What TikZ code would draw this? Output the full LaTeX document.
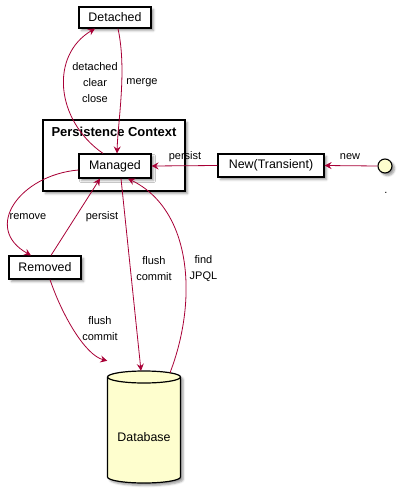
\documentclass[tikz,border=0pt]{standalone}
\usepackage{fontspec}
\setmainfont{Liberation Sans}
\usetikzlibrary{shapes.geometric,arrows.meta,shadows.blur,calc}
\definecolor{arrred}{HTML}{A80036}
\definecolor{ylw}{HTML}{FEFECE}
\begin{document}
\begin{tikzpicture}[x=1pt,y=-1pt,
  shad/.style={blur shadow={shadow xshift=2.5pt,shadow yshift=-2.5pt,shadow blur steps=4,shadow opacity=40}},
  box/.style={draw=black,line width=1.2pt,fill=white,minimum width=72pt,inner sep=0pt,font=\fontsize{12.4}{14}\selectfont,shad},
  frame/.style={draw=black,line width=1.2pt,fill=white,inner sep=0pt,shad},
  arr/.style={draw=arrred,line width=0.8pt,-{Stealth[length=7pt,width=7pt,inset=2.5pt]}},
  lbl/.style={font=\fontsize{11}{16}\selectfont,align=center,inner sep=0pt,text=black}]
\useasboundingbox (0,0) rectangle (401,493);
% frame
\node[frame,minimum width=142pt,minimum height=71pt] (pc) at (114,155.5) {};
\node[font=\bfseries\fontsize{13}{15}\selectfont,inner sep=0pt] (pct) at (114,132) {Persistence Context};
% nodes
\node[box,minimum height=21pt] (D) at (115,17.5) {Detached};
\node[box,minimum height=24pt] (M) at (115,166) {Managed};
\node[box,minimum width=106pt,minimum height=23pt] (N) at (271,165.5) {New(Transient)};
\node[box,minimum height=23pt] (R) at (45,267.5) {Removed};
\node[circle,draw=black,line width=1.1pt,fill=ylw,minimum size=14pt,inner sep=0pt,shad] (C) at (385,166) {};
\node[lbl] (dot) at (386,193) {.};
% database
\path[draw=black,line width=1.2pt,fill=ylw,shad]
  (107.5,377) -- (107.5,477) arc[start angle=180,end angle=0,x radius=36.5,y radius=6]
  -- (180.5,377) arc[start angle=0,end angle=-180,x radius=36.5,y radius=6] -- cycle;
\draw[black,line width=1.2pt] (107.5,377) arc[start angle=180,end angle=0,x radius=36.5,y radius=6];
\node[inner sep=0pt,minimum width=73pt,minimum height=112pt,font=\fontsize{12.4}{14}\selectfont] (DB) at (144,427) {};
\node[font=\fontsize{12.4}{14}\selectfont,inner sep=0pt] (dbt) at (144,437) {Database};
% connectors
\draw[arr] ([xshift=-12pt]M.north) .. controls (55,120) and (50,55) .. ([xshift=-20pt]D.south);
\draw[arr] ([xshift=3pt]D.south) .. controls (127,70) and (118,120) .. ([xshift=2pt]M.north);
\draw[arr] (N.west) -- (M.east);
\draw[arr] (C.west) -- (N.east);
\draw[arr] ([yshift=-4pt]M.west) .. controls (20,175) and (-18,228) .. ([xshift=-14pt]R.north);
\draw[arr] ([xshift=6pt]R.north) -- ([xshift=-15pt]M.south);
\draw[arr] ([xshift=6pt]M.south) -- ([xshift=-3pt]DB.north);
\draw[arr] ([xshift=26pt,yshift=-2pt]DB.north) .. controls (198,300) and (192,210) .. ([xshift=13pt]M.south);
\draw[arr] ([xshift=5pt]R.south) .. controls (62,315) and (85,355) .. ($(DB.north west)+(0,-10)$);
% labels
\node[lbl] (l1) at (95,83) {detached\\clear\\close};
\node[lbl] (l2) at (142,83) {merge};
\node[lbl] (l3) at (185,157) {persist};
\node[lbl] (l4) at (350,157) {new};
\node[lbl] (l5) at (28,217) {remove};
\node[lbl] (l6) at (102,217) {persist};
\node[lbl] (l7) at (154,269) {flush\\commit};
\node[lbl] (l8) at (203.5,269) {find\\JPQL};
\node[lbl] (l9) at (100,329) {flush\\commit};
\end{tikzpicture}
\end{document}
